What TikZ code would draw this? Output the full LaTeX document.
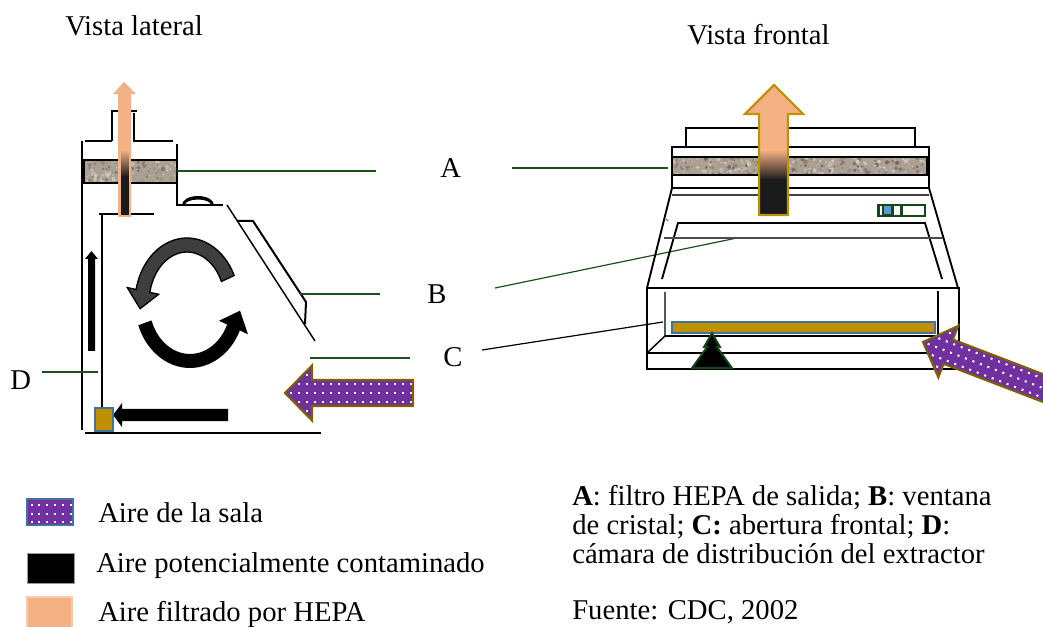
\documentclass[tikz,border=0pt]{standalone}
\usepackage{fontspec}
\setmainfont{Liberation Serif}
\usetikzlibrary{calc}

\definecolor{roompurple}{RGB}{112,48,160}
\definecolor{arrowrim}{RGB}{127,96,0}
\definecolor{hepaorange}{RGB}{244,177,131}
\definecolor{hepapale}{RGB}{248,203,173}
\definecolor{hepagold}{RGB}{191,144,0}
\definecolor{grilleblue}{RGB}{65,113,156}
\definecolor{leadgreen}{RGB}{30,78,30}
\definecolor{filterstone}{RGB}{172,160,147}
\definecolor{stonelight}{RGB}{236,229,220}
\definecolor{stonedark}{RGB}{92,82,72}
\definecolor{flowgray}{RGB}{62,62,62}
\definecolor{paneldark}{RGB}{22,72,22}
\definecolor{panelblue}{RGB}{91,155,213}
\definecolor{coreblack}{RGB}{26,26,26}

% speckled HEPA filter bar: x1 y1 x2 y2 number-of-grains
\newcommand\stonebar[5]{%
  \begin{scope}
    \clip (#1,#2) rectangle (#3,#4);
    \fill[filterstone] (#1,#2) rectangle (#3,#4);
    \foreach \k in {1,...,#5}{%
      \pgfmathsetmacro\px{#1+rnd*(#3-#1)}%
      \pgfmathsetmacro\py{#2+rnd*(#4-#2)}%
      \pgfmathsetmacro\pr{0.6+1.6*rnd}%
      \pgfmathtruncatemacro\pm{100*rnd}%
      \fill[stonelight!\pm!stonedark, opacity=.7] (\px,\py) circle[radius=\pr];
    }
  \end{scope}
  \draw[line width=2.2pt] (#1,#2) rectangle (#3,#4);
}

\begin{document}
\begin{tikzpicture}[x=0.75pt, y=-0.75pt, line join=miter,
  outline/.style={line width=1.1pt},
  hoodline/.style={line width=1.4pt},
  leader/.style={draw=leadgreen, line width=0.9pt},
  lbl/.style={anchor=base west, inner sep=0pt, font=\fontsize{21.5pt}{22pt}\selectfont},
  pics/roomarrow/.style={code={
    \begin{scope}
      \clip (0,0) -- (27,-27.5) -- (27,-13) -- (#1,-13) -- (#1,13) -- (27,13) -- (27,27.5) -- cycle;
      \fill[roompurple] (-2,-30) rectangle (#1+2,30);
      \foreach \dx in {6,14,...,#1}
        \foreach \dy in {-27,-18,...,27}
          \fill[white] (\dx-1,\dy-1) rectangle ++(2,2);
    \end{scope}
    \draw[arrowrim, line width=1.6pt] (0,0) -- (27,-27.5) -- (27,-13) -- (#1,-13)
      -- (#1,13) -- (27,13) -- (27,27.5) -- cycle;
  }}]
\path[use as bounding box, clip] (0,0) rectangle (1043,627);
\pgfmathsetseed{7}

% ---------- titles ----------
\node[lbl] (tlat) at (65,36) {Vista lateral};
\node[lbl] (tfront) at (687,45) {Vista frontal};

% ---------- side view: cabinet body ----------
\draw[outline] (112,141) -- (112,111) -- (137,111);
\draw[outline] (134,113) -- (134,141) -- (173,141);
\draw[outline] (85,141) -- (112,141);
\draw[outline] (82,141) -- (82,430);
\draw[outline] (177,144) -- (177,205) -- (223,205);
\draw[outline] (227,205) -- (315,341);
\draw[outline] (99,214) -- (154,214);
\draw[outline] (102,214) -- (102,408);
\draw[outline] (85,433) -- (321,433);
% sash (glass window)
\draw[line width=1.5pt] (237,221) -- (253,221) -- (306,302) -- (305,324);
% blower housing
\fill (182,205) arc[start angle=180, end angle=360, x radius=16, y radius=9]
  -- (211,205) arc[start angle=360, end angle=180, x radius=13, y radius=5.5] -- cycle;
% exhaust HEPA filter
\stonebar{84}{160}{177}{183}{160}
% filtered exhaust air
\fill[hepaorange] (124,82) -- (136,94) -- (131,94) -- (131,217) -- (118,217) -- (118,94) -- (113,94) -- cycle;
\shade[top color=hepaorange, bottom color=coreblack] (121,150) rectangle (128.5,177);
\fill[coreblack] (121,176.5) rectangle (128.5,215);

% circulation inside the work zone
\coordinate (cu) at (187,303);
\coordinate (cl) at (190,303);
\filldraw[fill=flowgray, draw=black, line width=1pt]
  ($(cu)+(-25:52 and 65)$) arc[start angle=-25, end angle=-168, x radius=52, y radius=65]
  -- ($(cu)+(-168:61 and 74)$) -- (140.1,308.7) -- ($(cu)+(-168:29 and 42)$)
  -- ($(cu)+(-168:38 and 51)$) arc[start angle=-168, end angle=-25, x radius=38, y radius=51]
  -- cycle;
\fill[black]
  ($(cl)+(160:55 and 65)$) arc[start angle=160, end angle=25, x radius=55, y radius=65]
  -- ($(cl)+(25:64 and 74)$) -- (240,310.7) -- ($(cl)+(25:32 and 42)$)
  -- ($(cl)+(25:41 and 51)$) arc[start angle=25, end angle=160, x radius=41, y radius=51]
  -- cycle;

% plenum flow
\fill (91.5,251) -- (98,259) -- (95,259) -- (95,351) -- (88,351) -- (88,259) -- (85,259) -- cycle;
\fill (113,415) -- (122,403) -- (122,409) -- (228,409) -- (228,421) -- (122,421) -- (122,427) -- cycle;
\filldraw[fill=hepagold, draw=grilleblue, line width=1.3pt] (95,408) rectangle (113,431);

% room air entering
\pic at (285,393) {roomarrow=128};

% ---------- labels and leaders ----------
\node[lbl] (la) at (440,178) {A};
\node[lbl] (lb) at (427,304) {B};
\node[lbl] (lc) at (443,367) {C};
\node[lbl] (ld) at (10,389) {D};
\draw[leader] (177,171) -- (376,171);
\draw[leader] (512,168) -- (668,168);
\draw[leader] (300,294) -- (380,294);
\draw[leader] (495,288) -- (737,238);
\draw[leader] (310,358) -- (410,358);
\draw[line width=0.9pt] (482,350) -- (663,322);
\draw[leader] (42,372) -- (98,372);

% ---------- front view ----------
\draw[hoodline] (686,147) -- (686,128) -- (915,128) -- (915,147);
\draw[hoodline] (672,147) rectangle (929,188);
\stonebar{672}{157}{927}{175}{420}
\draw[hoodline] (672,188) -- (647,288);
\draw[hoodline] (929,188) -- (958,288);
\draw[line width=1.3pt, black!75] (672,195) -- (929,195);
\draw[hoodline] (662,279) -- (678,223) -- (925,223) -- (942,279);
\draw[line width=1.6pt, black!70] (664,238) -- (943,238);
\draw[grilleblue, line width=0.8pt] (666,219) -- (668,221);
% control panel
\fill[paneldark] (877,204) rectangle (926,217);
\fill[white] (879.5,206) rectangle (881.5,215);
\fill[panelblue] (884,206.5) rectangle (891,214.5);
\fill[white] (894,206) rectangle (900,215);
\fill[white] (903,206) rectangle (924,215);
% exhaust through the filter
\begin{scope}
  \clip (774,85) -- (803,114) -- (788,114) -- (788,215) -- (759,215) -- (759,114) -- (745,114) -- cycle;
  \fill[hepaorange] (740,80) rectangle (810,150.5);
  \shade[top color=hepaorange, bottom color=coreblack] (740,150) rectangle (810,180);
  \fill[coreblack] (740,179.5) rectangle (810,220);
\end{scope}
\draw[hepagold, line width=1.6pt] (774,85) -- (803,114) -- (788,114) -- (788,215)
  -- (759,215) -- (759,114) -- (745,114) -- cycle;
% work opening
\draw[hoodline] (647,288) rectangle (959,369);
\draw[outline] (665,292) -- (665,336) -- (647,353);
\draw[outline] (938,291) -- (938,336);
\draw[outline] (665,336) -- (938,336);
\draw[outline] (647,353) -- (959,353);
\filldraw[fill=hepagold, draw=grilleblue, line width=1.3pt] (672,322) rectangle (935,333);
\filldraw[fill=black, draw=paneldark, line width=1.4pt]
  (712,333) -- (720,347) -- (717,347) -- (732,368) -- (692,368) -- (707,347) -- (704,347) -- cycle;
\pic[rotate=-21] at (923,342) {roomarrow=170};

% ---------- legend ----------
\begin{scope}
  \clip (27,499) rectangle (73,525);
  \fill[roompurple] (27,499) rectangle (73,525);
  \foreach \dx in {31.5,39.3,...,72}
    \foreach \dy in {505,513.5,522}
      \fill[white] (\dx-1,\dy-1) rectangle ++(2,2);
\end{scope}
\draw[grilleblue, line width=1.1pt] (27,499) rectangle (73,525);
\filldraw[fill=black, draw=black!40, line width=0.6pt] (27,553) rectangle (74,583);
\filldraw[fill=hepaorange, draw=hepapale, line width=1.5pt] (27,597) rectangle (72,632);
\node[lbl] (k1) at (98,522) {Aire de la sala};
\node[lbl] (k2) at (96,572) {Aire potencialmente contaminado};
\node[lbl] (k3) at (98,621) {Aire filtrado por HEPA};

\node[lbl] (n1) at (572,505) {\textbf{A}: filtro HEPA de salida; \textbf{B}: ventana};
\node[lbl] (n2) at (572,534) {de cristal; \textbf{C:} abertura frontal; \textbf{D}:};
\node[lbl] (n3) at (572,563) {cámara de distribución del extractor};
\node[lbl] (n4) at (572,619) {Fuente: CDC, 2002};
\end{tikzpicture}
\end{document}
